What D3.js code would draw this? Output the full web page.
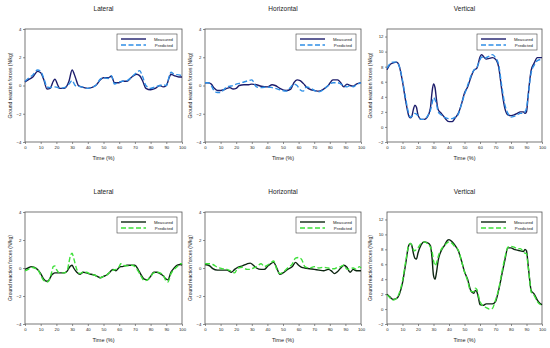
<!DOCTYPE html>
<html>
<head>
<meta charset="utf-8">
<script src="https://cdn.jsdelivr.net/npm/d3@7"></script>
<style>
  body { margin: 0; background: #fff; }
  text { font-family: "Liberation Sans", Arial, sans-serif; fill: #222; }
</style>
</head>
<body>
<script>
// ---- data (time in %, force in N/kg) ----
var titles = ["Lateral", "Horizontal", "Vertical"];
var xTicks = [0, 10, 20, 30, 40, 50, 60, 70, 80, 90, 100];
var yTicksSmall = [-4, -2, 0, 2, 4];
var yTicksBig = [-2, 0, 2, 4, 6, 8, 10, 12];
var seriesNames = ["Measured", "Predicted"];

// top row
var latTopTime = [0,2,5,8,10,12,14,16,18,19,21,22,25,28,30,32,34,36,40,45,48,50,53,55,57,60,62,65,68,71,73,75,77,80,83,86,88,90,92,93,95,98,100];
var latTopMeasured = [0.25,0.4,0.6,1.0,0.9,0.4,-0.25,-0.2,0.3,0.45,0.0,-0.2,-0.2,0.3,1.1,0.6,0.0,-0.1,-0.2,0.0,0.4,0.55,0.55,0.65,0.2,0.2,0.3,0.3,0.6,0.8,0.7,0.3,-0.2,-0.3,-0.2,0.0,-0.1,0.0,0.6,0.8,0.7,0.6,0.6];
var latTopPredicted = [0.3,0.5,0.75,1.1,1.0,0.5,-0.1,-0.15,-0.1,-0.1,-0.15,-0.2,-0.15,0.1,0.35,0.0,-0.05,-0.1,-0.2,0.0,0.45,0.55,0.5,0.7,0.1,0.25,0.3,0.35,0.6,0.9,1.05,0.6,0.0,-0.2,-0.1,0.0,0.05,0.0,0.7,0.95,0.8,0.75,0.7];

var horTopTime = [0,2,4,6,8,10,12,14,16,18,20,22,25,28,30,33,36,40,43,45,48,52,55,57,59,61,63,65,68,70,73,76,79,82,85,87,89,91,93,95,97,100];
var horTopMeasured = [0.2,0.2,0.1,-0.2,-0.35,-0.35,-0.3,-0.2,-0.15,-0.25,-0.2,0.0,0.05,0.05,0.1,0.05,-0.05,-0.1,0.05,0.0,-0.2,-0.35,-0.25,0.2,0.4,0.35,0.15,-0.1,-0.3,-0.35,-0.4,-0.25,0.0,0.4,0.4,0.2,-0.1,0.1,0.0,-0.05,0.1,0.2];
var horTopPredicted = [0.2,0.2,0.0,-0.4,-0.5,-0.5,-0.3,-0.1,-0.05,0.0,0.1,0.15,0.25,0.35,0.4,-0.1,-0.15,-0.1,-0.15,-0.2,-0.3,-0.4,-0.1,0.1,0.0,-0.3,-0.4,-0.1,-0.2,-0.35,-0.45,-0.3,0.0,0.2,0.2,0.1,0.0,-0.1,0.0,-0.1,0.05,0.2];

var verTopTime = [0,2,4,6,7,8,10,12,14,15,16,17,18,19,20,22,24,26,28,29,30,31,32,33,35,37,38,40,42,44,46,48,50,52,54,56,58,59,60,61,62,64,66,68,70,72,74,76,78,80,82,84,86,88,89,90,91,92,93,95,97,100];
var verTopMeasured = [7.6,8.3,8.5,8.6,8.5,8.0,6.0,3.5,1.5,1.2,1.4,2.3,2.9,2.6,1.6,1.0,1.0,1.3,2.5,4.5,5.7,5.2,3.5,2.3,1.8,1.3,1.0,0.7,0.7,1.2,1.8,3.0,4.5,5.3,6.5,7.5,7.8,8.5,9.3,9.6,9.4,9.0,9.1,9.2,9.0,8.0,5.0,2.5,1.6,1.5,1.6,1.8,2.0,2.0,1.8,2.0,4.0,6.0,7.5,8.5,9.2,9.2];
var verTopPredicted = [7.8,8.4,8.6,8.6,8.5,8.0,6.2,3.8,1.8,1.3,1.4,1.6,1.8,1.7,1.5,1.0,1.0,1.4,2.2,3.0,3.9,3.6,3.0,2.0,1.6,1.3,1.2,1.1,1.1,1.3,1.7,3.0,4.3,5.5,6.7,7.5,7.9,8.4,8.9,9.3,9.1,9.2,9.4,9.6,9.2,8.3,5.5,3.0,1.8,1.3,1.4,1.6,1.8,1.8,2.0,2.5,4.0,5.8,7.2,8.2,8.8,9.0];

// bottom row
var latBotTime = [0,2,4,6,8,10,12,14,15,17,18,19,20,22,25,27,28,29,30,31,33,35,37,39,42,44,46,48,50,52,54,56,58,60,61,62,65,68,70,72,74,76,78,80,82,84,86,88,90,91,93,95,97,99,100];
var latBotMeasured = [-0.1,0.0,0.1,0.05,-0.1,-0.4,-0.8,-0.95,-0.9,-0.5,-0.4,-0.35,-0.35,-0.35,-0.35,-0.2,0.0,0.15,0.2,0.0,-0.3,-0.45,-0.3,-0.35,-0.45,-0.5,-0.6,-0.7,-0.6,-0.5,-0.3,-0.1,-0.2,0.05,0.1,0.1,0.2,0.2,0.2,-0.1,-0.5,-0.8,-0.85,-0.6,-0.3,-0.3,-0.4,-0.55,-0.8,-0.85,-0.3,0.0,0.2,0.25,0.2];
var latBotPredicted = [-0.2,-0.1,0.05,0.0,-0.1,-0.5,-0.9,-1.0,-0.95,-0.3,0.1,0.15,-0.1,-0.35,-0.35,-0.15,0.4,0.9,1.05,0.7,-0.1,-0.4,-0.3,-0.3,-0.45,-0.5,-0.6,-0.7,-0.6,-0.5,-0.3,-0.15,-0.1,0.1,0.3,0.2,0.15,0.2,0.1,-0.2,-0.6,-0.9,-0.85,-0.6,-0.35,-0.3,-0.35,-0.5,-0.95,-1.0,-0.4,-0.1,0.1,0.3,0.3];

var horBotTime = [0,3,5,8,11,14,17,19,21,24,27,29,31,33,36,38,40,42,44,46,48,50,53,56,58,60,62,64,67,70,73,76,79,81,83,85,87,89,91,93,95,97,99,100];
var horBotMeasured = [0.25,0.15,-0.05,-0.15,-0.15,-0.15,-0.3,-0.1,0.05,0.15,0.3,0.35,0.2,0.0,-0.1,-0.1,0.1,0.3,0.4,0.0,-0.45,-0.35,-0.1,0.1,0.4,0.2,0.05,0.0,-0.05,-0.1,-0.15,-0.2,-0.1,-0.2,-0.4,-0.25,0.0,0.2,0.05,-0.3,-0.1,-0.2,-0.2,-0.2];
var horBotPredicted = [0.3,0.3,0.25,0.05,-0.05,-0.1,-0.25,-0.35,0.0,0.05,-0.1,-0.1,0.0,0.1,0.3,0.1,0.2,0.35,0.5,-0.1,-0.4,-0.3,0.0,0.3,0.7,0.75,0.6,0.1,0.0,0.1,0.0,0.05,0.0,-0.05,-0.05,0.05,0.1,0.2,-0.1,-0.05,0.0,-0.1,0.1,0.0];

var verBotTime = [0,2,4,6,8,10,12,14,15,16,17,18,19,20,22,24,26,28,29,30,31,32,33,35,37,39,40,42,44,46,48,50,52,54,56,57,58,59,60,62,64,66,68,70,72,74,76,78,80,82,84,86,88,89,90,91,92,93,95,97,99,100];
var verBotMeasured = [2.0,1.6,1.3,1.4,2.0,3.5,6.0,8.5,8.8,8.5,7.5,6.8,6.7,7.5,8.6,9.0,8.9,8.5,7.0,4.5,4.0,5.0,6.5,7.8,8.5,9.2,9.3,9.0,8.5,7.8,6.5,5.0,4.0,2.5,2.1,2.5,2.3,1.5,0.6,0.5,0.7,0.7,0.7,1.0,2.5,4.5,6.5,8.2,8.2,8.0,7.9,7.8,7.7,8.0,7.8,6.0,4.0,2.5,2.0,1.2,0.7,0.6];
var verBotPredicted = [1.9,1.5,1.2,1.4,2.2,3.8,6.3,8.5,8.8,8.6,8.0,7.8,8.0,8.2,8.8,9.0,8.8,8.3,7.8,6.5,5.8,6.2,7.0,8.0,8.5,8.9,9.0,8.8,8.3,7.9,6.5,5.0,3.8,2.4,2.3,2.8,2.6,1.8,1.0,0.4,0.2,0.0,0.1,1.2,2.6,4.8,6.8,8.3,8.4,8.3,8.1,8.1,7.7,7.5,7.4,5.8,4.0,2.3,1.8,1.0,0.6,0.6];

// ---- layout ----
var width = 550, height = 348;
var colLeft = [25, 205, 387], colRight = [182, 361, 542];
var rowTop = [29, 212], rowBottom = [142, 324];
var rowColors = [
  { measured: "#1c1c6b", predicted: "#2f8fe6" },
  { measured: "#0c2410", predicted: "#3ee03a" }
];

var panels = [
  { row: 0, col: 0, t: latTopTime, m: latTopMeasured, p: latTopPredicted },
  { row: 0, col: 1, t: horTopTime, m: horTopMeasured, p: horTopPredicted },
  { row: 0, col: 2, t: verTopTime, m: verTopMeasured, p: verTopPredicted },
  { row: 1, col: 0, t: latBotTime, m: latBotMeasured, p: latBotPredicted },
  { row: 1, col: 1, t: horBotTime, m: horBotMeasured, p: horBotPredicted },
  { row: 1, col: 2, t: verBotTime, m: verBotMeasured, p: verBotPredicted }
];

var svg = d3.select("body").append("svg")
    .attr("width", width)
    .attr("height", height);

panels.forEach(function(d) {
  var left = colLeft[d.col], right = colRight[d.col];
  var top = rowTop[d.row], bottom = rowBottom[d.row];
  var big = d.col == 2;
  var yTicks = big ? yTicksBig : yTicksSmall;
  var colors = rowColors[d.row];

  var x = d3.scaleLinear().domain([0, 100]).range([left, right]);
  var y = d3.scaleLinear().domain(big ? [-2, 13] : [-4, 4]).range([bottom, top]);

  var g = svg.append("g");

  // title
  g.append("text")
      .attr("x", (left + right) / 2)
      .attr("y", top - 18)
      .attr("text-anchor", "middle")
      .style("font-size", "6.5px")
      .text(titles[d.col]);

  // axes
  var xa = g.append("g")
      .attr("transform", "translate(0," + bottom + ")")
      .call(d3.axisBottom(x).tickValues(xTicks).tickSize(2).tickPadding(1.5));
  var ya = g.append("g")
      .attr("transform", "translate(" + left + ",0)")
      .call(d3.axisLeft(y).tickValues(yTicks).tickSize(2).tickPadding(1.5));
  [xa, ya].forEach(function(a) {
    a.select(".domain").remove();
    a.selectAll("line").attr("stroke", "#444").attr("stroke-width", 0.6);
    a.selectAll("text").style("font-size", "4.3px").attr("fill", "#333");
  });

  // frame
  g.append("rect")
      .attr("x", left).attr("y", top)
      .attr("width", right - left).attr("height", bottom - top)
      .attr("fill", "none")
      .attr("stroke", "#555")
      .attr("stroke-width", 0.8);

  // axis labels
  g.append("text")
      .attr("x", (left + right) / 2)
      .attr("y", bottom + 18)
      .attr("text-anchor", "middle")
      .style("font-size", "5.5px")
      .text("Time (%)");
  g.append("text")
      .attr("transform", "translate(" + (left - (big ? 15 : 13)) + "," + ((top + bottom) / 2) + ") rotate(-90)")
      .attr("text-anchor", "middle")
      .style("font-size", "5px")
      .text("Ground reaction forces (N/kg)");

  var line = d3.line()
      .x(function(v, i) { return x(d.t[i]); })
      .y(function(v) { return y(v); })
      .curve(d3.curveMonotoneX);

  g.append("path")
      .attr("d", line(d.m))
      .attr("fill", "none")
      .attr("stroke", colors.measured)
      .attr("stroke-width", 1.4);
  g.append("path")
      .attr("d", line(d.p))
      .attr("fill", "none")
      .attr("stroke", colors.predicted)
      .attr("stroke-width", 1.4)
      .attr("stroke-dasharray", "5,2.5");

  // legend
  var lw = 60, lh = 16;
  var lx = right - 5 - lw, ly = top + 5;
  var lg = g.append("g").attr("transform", "translate(" + lx + "," + ly + ")");
  lg.append("rect")
      .attr("width", lw).attr("height", lh)
      .attr("fill", "#fff")
      .attr("stroke", "#444")
      .attr("stroke-width", 0.6);
  seriesNames.forEach(function(name, i) {
    var yy = 5 + i * 6;
    lg.append("line")
        .attr("x1", 4).attr("x2", 29)
        .attr("y1", yy).attr("y2", yy)
        .attr("stroke", i == 0 ? colors.measured : colors.predicted)
        .attr("stroke-width", 1.4)
        .attr("stroke-dasharray", i == 0 ? null : "5,2.5");
    lg.append("text")
        .attr("x", lw - 4)
        .attr("y", yy)
        .attr("dy", "0.35em")
        .attr("text-anchor", "end")
        .style("font-size", "4.3px")
        .text(name);
  });
});
</script>
</body>
</html>
